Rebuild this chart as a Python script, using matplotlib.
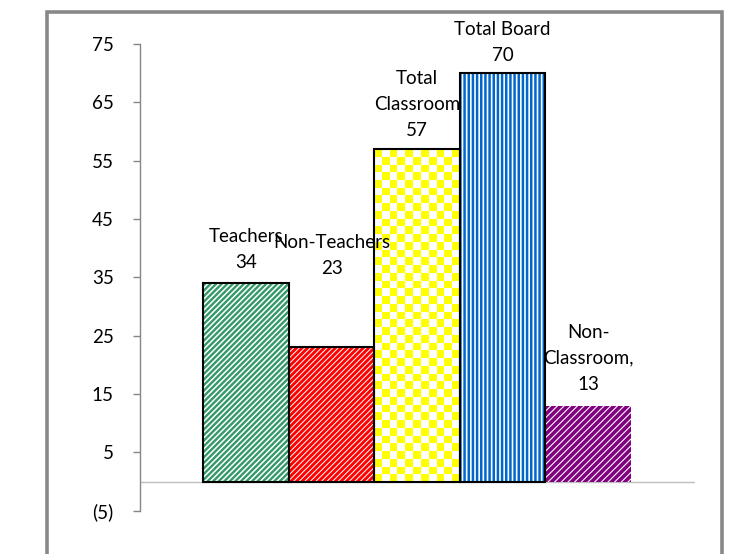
import numpy as np
import matplotlib
matplotlib.use("Agg")
import matplotlib.pyplot as plt
from matplotlib.patches import Rectangle
from matplotlib.colors import ListedColormap

# 데이터
categories = ["Teachers", "Non-Teachers", "Total Classroom", "Total Board", "Non-Classroom"]
values = [34, 23, 57, 70, 13]
label_texts = ["Teachers\n34", "Non-Teachers\n23", "Total\nClassroom\n57",
               "Total Board\n70", "Non-\nClassroom,\n13"]
yticks = [-5, 5, 15, 25, 35, 45, 55, 65, 75]

# 스타일
colors = ["#339966", "#ff0000", "#ffff00", "#0066cc", "#800080"]
hatches = ["//////", "//////", None, "||||", "/////"]
hatch_lw = [1.7, 2.1, 0, 1.8, 2.6]
outlined = [True, True, True, True, False]
label_offsets = [11, 53, 9.5, 8.5, 11.5]  # points above bar top (baseline)

plt.rcParams['font.family'] = ['Lato', 'DejaVu Sans']

fig = plt.figure(figsize=(7.42, 5.54), dpi=100)
ax = fig.add_axes([140 / 742, (554 - 510.7) / 554, (695 - 140) / 742, (510.7 - 44) / 554])

x = np.arange(len(categories))
ax.set_xlim(-1.24, 5.25)
ax.set_ylim(-5, 75)

for i, v in enumerate(values):
    if hatches[i] is not None:
        plt.rcParams['hatch.linewidth'] = hatch_lw[i]
        b = ax.bar(x[i], v, width=1.0, color="white", edgecolor=colors[i],
                   linewidth=0, hatch=hatches[i], zorder=2)[0]
        if hasattr(b, "set_hatch_linewidth"):
            b.set_hatch_linewidth(hatch_lw[i])
    else:
        # 체크무늬 (checkerboard)
        b = ax.bar(x[i], v, width=1.0, color="white", linewidth=0, zorder=2)[0]
        fig.canvas.draw()
        bb = b.get_window_extent()
        nx = max(1, int(round(bb.width / 7.7)))
        ny = max(1, int(round(bb.height / 7.7)))
        board = (np.add.outer(np.arange(ny), np.arange(nx)) % 2).astype(float)
        cmap = ListedColormap([colors[i], "white"])
        im = ax.imshow(board, cmap=cmap, interpolation="nearest", aspect="auto",
                       extent=(b.get_x(), b.get_x() + b.get_width(), b.get_height(), 0),
                       origin="upper", zorder=2)
        im.set_clip_path(b)
    if outlined[i]:
        ax.bar(x[i], v, width=1.0, fill=False, edgecolor="black", linewidth=1.5, zorder=3)
    ax.annotate(label_texts[i], xy=(x[i], v), xytext=(0, label_offsets[i]),
                textcoords="offset points", ha="center", va="baseline",
                fontsize=13.5, linespacing=1.65, color="black", zorder=4)

ax.set_ylim(-5, 75)
ax.set_xlim(-1.24, 5.25)
ax.axhline(0, color="#bfbfbf", linewidth=1.0, zorder=1)

ax.set_yticks(yticks)
ax.set_yticklabels([f"({abs(t)})" if t < 0 else str(t) for t in yticks])
ax.tick_params(axis="y", direction="out", length=5, width=1, color="#868686",
               pad=14, labelsize=13.5, labelcolor="black")
ax.set_xticks([])
for s in ["top", "right", "bottom"]:
    ax.spines[s].set_visible(False)
ax.spines["left"].set_color("#868686")
ax.spines["left"].set_linewidth(1.0)

# 바깥 테두리
border = Rectangle((47 / 742, -0.2), (722 - 47) / 742, 1.2 - 11.5 / 554,
                   transform=fig.transFigure, fill=False, edgecolor="#888888",
                   linewidth=2.6, clip_on=False)
fig.patches.append(border)

fig.savefig("out.png", dpi=100)
